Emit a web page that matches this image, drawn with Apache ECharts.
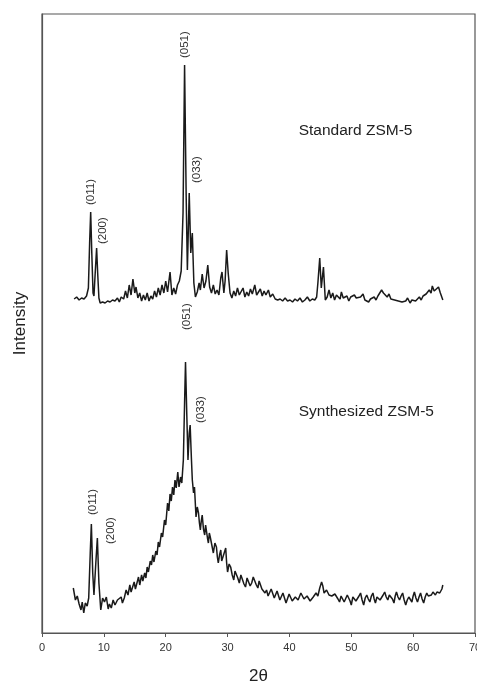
<!DOCTYPE html>
<html>
<head>
<meta charset="utf-8">
<script src="https://cdn.jsdelivr.net/npm/echarts@6/dist/echarts.min.js"></script>
<style>
  html, body { margin: 0; padding: 0; background: #fff; overflow: hidden; }
  #chart { width: 477px; height: 683px; }
</style>
</head>
<body>
<div id="chart"></div>
<script>
// x axis ticks (2theta)
var xTicks = [0, 10, 20, 30, 40, 50, 60, 70];

// Standard ZSM-5 pattern [2theta, intensity a.u.]
var standardData = [
  [5.2,334],[5.6,336],[6.0,333],[6.4,335],[6.8,334],[7.2,337],[7.5,345],[7.7,390],[7.87,421],[8.05,380],
  [8.25,340],[8.4,337],[8.6,360],[8.83,385],[9.0,360],[9.2,335],[9.4,330],[9.8,331],[10.2,330],[10.6,332],
  [11.0,331],[11.4,333],[11.8,332],[12.2,335],[12.5,331],[12.8,336],[13.2,334],[13.5,342],[13.8,335],[14.1,348],
  [14.4,338],[14.7,354],[15.0,340],[15.2,346],[15.5,335],[15.8,340],[16.1,332],[16.4,338],[16.7,333],[17.0,340],
  [17.3,332],[17.6,337],[17.9,334],[18.2,342],[18.5,336],[18.8,345],[19.1,338],[19.4,348],[19.7,340],[20.0,352],
  [20.3,341],[20.7,361],[21.0,338],[21.3,345],[21.6,339],[21.9,348],[22.2,352],[22.5,362],[22.8,420],[23.05,568],
  [23.3,440],[23.5,363],[23.8,440],[24.05,380],[24.3,400],[24.55,350],[24.8,336],[25.1,341],[25.4,350],[25.6,343],
  [25.9,359],[26.2,345],[26.5,352],[26.8,368],[27.1,346],[27.4,340],[27.7,348],[28.0,339],[28.3,343],[28.6,338],
  [28.9,355],[29.1,361],[29.4,340],[29.6,352],[29.85,383],[30.1,360],[30.4,340],[30.7,335],[31.0,342],[31.3,337],
  [31.6,345],[31.9,338],[32.2,340],[32.5,345],[32.8,336],[33.1,341],[33.4,337],[33.7,344],[34.0,339],[34.4,348],
  [34.7,338],[35.0,340],[35.3,344],[35.6,337],[35.9,342],[36.2,338],[36.6,343],[36.9,336],[37.3,339],[37.7,334],
  [38.1,333],[38.5,334],[38.9,332],[39.3,335],[39.7,332],[40.1,333],[40.5,331],[40.9,334],[41.3,332],[41.7,335],
  [42.1,331],[42.5,333],[42.9,336],[43.3,332],[43.7,334],[44.1,333],[44.4,336],[44.6,350],[44.9,375],[45.15,345],
  [45.5,366],[45.8,333],[46.1,336],[46.4,343],[46.7,335],[47.0,340],[47.3,333],[47.6,338],[47.9,336],[48.2,334],
  [48.4,341],[48.7,335],[49.0,333],[49.3,337],[49.6,332],[49.9,336],[50.2,334],[50.5,338],[50.8,335],[51.1,333],
  [51.5,336],[51.9,339],[52.2,333],[52.5,335],[52.8,331],[53.1,334],[53.4,332],[53.7,336],[54.0,333],[54.3,337],
  [54.6,339],[54.9,343],[55.2,340],[55.5,338],[55.8,336],[56.1,339],[56.4,334],[56.7,336],[57.0,333],[57.3,335],
  [57.6,332],[57.9,334],[58.2,331],[58.5,333],[58.8,332],[59.1,335],[59.5,330],[59.8,333],[60.1,335],[60.4,332],
  [60.7,334],[61.0,336],[61.3,333],[61.6,337],[61.9,335],[62.1,339],[62.4,338],[62.6,343],[62.9,340],[63.1,347],
  [63.4,342],[63.7,341],[64.1,346],[64.4,340],[64.8,333]
];

// Synthesized ZSM-5 pattern [2theta, intensity a.u.]
var synthData = [
  [5.06,45],[5.4,33],[5.7,37],[6.0,29],[6.3,23],[6.5,31],[6.75,20],[7.0,30],[7.3,27],[7.55,35],
  [7.8,80],[7.98,109],[8.2,60],[8.4,38],[8.7,70],[8.95,95],[9.2,50],[9.5,23],[9.8,35],[10.1,31],
  [10.4,36],[10.7,24],[10.9,29],[11.2,25],[11.5,33],[11.8,28],[12.2,33],[12.5,31],[12.8,36],[13.0,30],
  [13.3,35],[13.6,43],[13.9,38],[14.2,48],[14.4,41],[14.6,43],[14.9,51],[15.1,44],[15.3,46],[15.6,56],
  [15.8,48],[16.1,58],[16.3,52],[16.6,60],[16.8,55],[17.0,66],[17.2,61],[17.5,72],[17.7,68],[17.9,78],
  [18.1,71],[18.4,82],[18.6,78],[18.8,91],[19.0,86],[19.3,100],[19.5,96],[19.8,113],[20.0,108],[20.3,130],
  [20.5,122],[20.7,139],[20.9,132],[21.1,146],[21.3,138],[21.5,153],[21.7,145],[21.95,161],[22.15,146],[22.4,156],
  [22.6,150],[22.85,173],[23.05,230],[23.2,271],[23.4,220],[23.6,173],[23.8,200],[23.95,208],[24.15,175],[24.3,153],
  [24.5,140],[24.65,146],[24.9,116],[25.1,126],[25.3,120],[25.45,110],[25.6,103],[25.75,112],[25.9,118],[26.1,104],
  [26.3,98],[26.45,108],[26.6,106],[26.75,95],[26.9,90],[27.05,100],[27.2,96],[27.45,88],[27.7,80],[27.95,90],
  [28.2,86],[28.35,76],[28.5,70],[28.7,78],[28.9,83],[29.05,72],[29.2,73],[29.45,80],[29.7,85],[29.85,70],
  [30.0,61],[30.25,69],[30.5,66],[30.75,58],[31.0,53],[31.2,62],[31.4,60],[31.65,55],[31.9,50],[32.15,58],
  [32.4,56],[32.65,49],[32.9,46],[33.15,55],[33.4,53],[33.65,47],[33.9,50],[34.15,56],[34.4,55],[34.65,48],
  [34.9,45],[35.1,52],[35.3,51],[35.55,44],[35.8,46],[36.05,40],[36.3,43],[36.55,37],[36.8,38],[37.05,44],
  [37.3,43],[37.55,35],[37.8,36],[38.0,42],[38.2,41],[38.45,33],[38.7,35],[38.95,40],[39.2,38],[39.45,30],
  [39.7,31],[39.95,39],[40.2,40],[40.45,32],[40.7,30],[40.95,36],[41.2,38],[41.4,33],[41.6,35],[41.85,40],
  [42.1,41],[42.35,34],[42.6,33],[42.85,37],[43.1,38],[43.35,32],[43.6,33],[43.85,36],[44.1,38],[44.3,40],
  [44.6,37],[44.9,45],[45.2,51],[45.4,47],[45.6,40],[45.8,38],[46.0,43],[46.2,41],[46.4,38],[46.6,40],
  [46.85,37],[47.1,36],[47.35,39],[47.6,38],[47.85,34],[48.1,31],[48.35,37],[48.6,35],[48.85,31],[49.1,30],
  [49.35,38],[49.6,40],[49.8,32],[50.0,28],[50.25,36],[50.5,38],[50.75,32],[51.0,30],[51.25,37],[51.5,40],
  [51.75,33],[52.0,28],[52.25,35],[52.5,38],[52.75,34],[53.0,31],[53.25,37],[53.5,40],[53.7,34],[53.9,30],
  [54.15,36],[54.4,38],[54.65,33],[54.9,31],[55.15,38],[55.4,41],[55.65,36],[55.9,33],[56.15,38],[56.4,40],
  [56.65,34],[56.9,30],[57.1,37],[57.3,41],[57.55,36],[57.8,33],[58.05,37],[58.3,40],[58.55,33],[58.8,28],
  [59.05,33],[59.3,36],[59.55,34],[59.8,31],[60.0,37],[60.2,41],[60.45,35],[60.7,31],[60.95,36],[61.2,40],
  [61.45,34],[61.7,30],[61.95,36],[62.2,40],[62.45,37],[62.7,35],[62.95,38],[63.2,41],[63.4,39],[63.6,38],
  [63.85,41],[64.1,43],[64.3,40],[64.5,40],[64.65,44],[64.8,48]
];

// peak labels: text and the peak they belong to [2theta, intensity]
var standardPeakNames = ['(011)', '(200)', '(051)', '(033)'];
var standardPeaks = [[7.87, 421], [8.83, 385], [23.05, 568], [23.8, 440]];
var synthPeakNames = ['(011)', '(200)', '(051)', '(033)'];
var synthPeaks = [[7.98, 109], [8.95, 95], [23.2, 271], [23.95, 208]];

// sample names, anchored in data space
var sampleNames = ['Standard ZSM-5', 'Synthesized ZSM-5'];
var sampleNameAnchors = [[41.5, 502], [41.5, 221]];

var font = "'Liberation Sans', Arial, sans-serif";
var myChart = echarts.init(document.getElementById('chart'));

var option = {
    animation: false,
    grid: {
        left: 42,
        right: 2,
        top: 14,
        bottom: 50,
        outerBoundsMode: 'none',
        containLabel: false,
        show: true,
        borderColor: '#555',
        borderWidth: 1.2,
        backgroundColor: 'transparent'
    },
    xAxis: {
        type: 'value',
        min: 0,
        max: 70,
        interval: 10,
        name: '2θ',
        nameLocation: 'middle',
        nameGap: 35,
        nameTextStyle: { fontFamily: font, fontSize: 17, color: '#222' },
        axisLine: { show: true, lineStyle: { color: '#555', width: 1.2 } },
        axisTick: { show: true, length: 4, lineStyle: { color: '#555' } },
        axisLabel: { fontFamily: font, fontSize: 11, color: '#333', margin: 9 },
        splitLine: { show: false }
    },
    yAxis: {
        type: 'value',
        min: 0,
        max: 619,
        name: 'Intensity',
        nameLocation: 'middle',
        nameGap: 13,
        nameTextStyle: { fontFamily: font, fontSize: 17, color: '#222' },
        axisLine: { show: true, lineStyle: { color: '#555', width: 1.2 } },
        axisTick: { show: false },
        axisLabel: { show: false },
        splitLine: { show: false }
    },
    series: [{
        name: 'Standard ZSM-5',
        type: 'line',
        data: standardData,
        symbol: 'none',
        lineStyle: { color: '#1a1a1a', width: 1.5 }
    }, {
        name: 'Synthesized ZSM-5',
        type: 'line',
        data: synthData,
        symbol: 'none',
        lineStyle: { color: '#1a1a1a', width: 1.5 }
    }]
};
myChart.setOption(option);

// peak labels rotated, placed from data coords through the chart's scales
// offsets [dx, dy] in px from the peak top to the label start
var stdOffsets = [[0, -7], [6, -4], [0, -7], [8, -10]];
var synOffsets = [[1, -9], [13, 6], [1, -32], [11, -2]];
var graphics = [];
function addPeakLabels(names, peaks, offsets) {
    names.forEach(function(name, i) {
        var p = myChart.convertToPixel({ gridIndex: 0 }, peaks[i]);
        graphics.push({
            type: 'text',
            x: p[0] + offsets[i][0],
            y: p[1] + offsets[i][1],
            rotation: Math.PI / 2,
            style: {
                text: name,
                fontFamily: font,
                fontSize: 11.5,
                fill: '#333',
                align: 'left',
                verticalAlign: 'middle'
            }
        });
    });
}
addPeakLabels(standardPeakNames, standardPeaks, stdOffsets);
addPeakLabels(synthPeakNames, synthPeaks, synOffsets);

sampleNames.forEach(function(name, i) {
    var p = myChart.convertToPixel({ gridIndex: 0 }, sampleNameAnchors[i]);
    graphics.push({
        type: 'text',
        x: p[0],
        y: p[1],
        style: {
            text: name,
            fontFamily: font,
            fontSize: 15.5,
            fill: '#222',
            align: 'left',
            verticalAlign: 'middle'
        }
    });
});
myChart.setOption({ graphic: graphics });
</script>
</body>
</html>
